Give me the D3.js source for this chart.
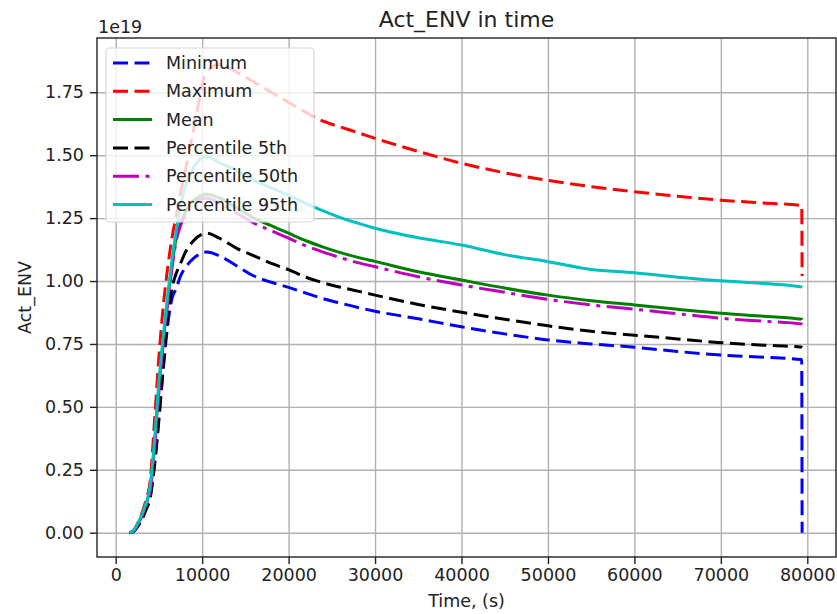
<!DOCTYPE html>
<html>
<head>
<meta charset="utf-8">
<title>Act_ENV in time</title>
<script src="https://d3js.org/d3.v7.min.js"></script>
<style>
  body { margin: 0; background: #fff; }
  svg text { font-family: "DejaVu Sans", sans-serif; fill: #222; }
</style>
</head>
<body>
<script>
// time (s) and series values, in units of 1e19
var time = [1600, 2000, 2500, 3000, 3500, 4000, 4500, 5000, 5500, 6000, 6500, 7000, 7500, 8000, 9000, 10500,
            12000, 14000, 16000, 18000, 20000, 22000, 24000, 26000, 28000, 30000, 35000, 40000, 45000, 50000,
            55000, 60000, 65000, 70000, 75000, 79350, 79400];

var minimum = [0, 0.004, 0.025, 0.055, 0.10, 0.15, 0.28, 0.46, 0.65, 0.82, 0.93, 0.97, 1.02, 1.05, 1.09, 1.115,
               1.10, 1.06, 1.02, 0.995, 0.975, 0.952, 0.93, 0.912, 0.895, 0.88, 0.85, 0.818, 0.79, 0.766,
               0.75, 0.737, 0.72, 0.706, 0.697, 0.688, 0.0];
var maximum = [0, 0.006, 0.035, 0.075, 0.13, 0.21, 0.45, 0.70, 0.90, 1.05, 1.17, 1.26, 1.35, 1.43, 1.60, 1.83,
               1.86, 1.83, 1.79, 1.75, 1.71, 1.67, 1.635, 1.612, 1.59, 1.567, 1.515, 1.468, 1.43, 1.40,
               1.375, 1.355, 1.337, 1.321, 1.31, 1.30, 1.02];
var mean = [0, 0.005, 0.03, 0.065, 0.11, 0.18, 0.35, 0.58, 0.76, 0.92, 1.06, 1.17, 1.23, 1.27, 1.32, 1.345,
            1.33, 1.29, 1.25, 1.22, 1.19, 1.16, 1.135, 1.113, 1.094, 1.078, 1.037, 1.004, 0.972, 0.944,
            0.922, 0.905, 0.888, 0.872, 0.86, 0.848, 0.846];
var p5 = [0, 0.003, 0.022, 0.05, 0.09, 0.14, 0.27, 0.45, 0.66, 0.85, 0.97, 1.03, 1.07, 1.11, 1.16, 1.19,
          1.17, 1.13, 1.10, 1.07, 1.045, 1.015, 0.993, 0.975, 0.96, 0.944, 0.907, 0.876, 0.848, 0.822,
          0.80, 0.785, 0.77, 0.755, 0.745, 0.737, 0.736];
var p50 = [0, 0.005, 0.03, 0.063, 0.105, 0.17, 0.33, 0.56, 0.75, 0.91, 1.05, 1.16, 1.22, 1.26, 1.31, 1.33,
           1.31, 1.27, 1.23, 1.20, 1.17, 1.14, 1.115, 1.093, 1.073, 1.057, 1.017, 0.984, 0.955, 0.927,
           0.905, 0.888, 0.87, 0.852, 0.84, 0.829, 0.828];
var p95 = [0, 0.006, 0.032, 0.07, 0.115, 0.19, 0.37, 0.60, 0.78, 0.94, 1.08, 1.20, 1.30, 1.37, 1.45, 1.495,
           1.47, 1.44, 1.40, 1.37, 1.34, 1.308, 1.279, 1.252, 1.23, 1.21, 1.172, 1.143, 1.105, 1.077,
           1.046, 1.033, 1.015, 1.001, 0.99, 0.976, 0.975];

var names = ["Minimum", "Maximum", "Mean", "Percentile 5th", "Percentile 50th", "Percentile 95th"];
var colors = ["#0000ff", "#ff0000", "#008000", "#000000", "#bf00bf", "#00bfbf"];
var dashes = ["15,6.5", "15,6.5", null, "15,6.5", "26,6.5,4,6.5", null];
var values = [minimum, maximum, mean, p5, p50, p95];

var xTicks = [0, 10000, 20000, 30000, 40000, 50000, 60000, 70000, 80000];
var yTicks = [0, 0.25, 0.5, 0.75, 1.0, 1.25, 1.5, 1.75];

var W = 837, H = 614;
var plotL = 97, plotR = 836, plotT = 38, plotB = 557;

var svg = d3.select("body").append("svg")
  .attr("width", W)
  .attr("height", H);

var x = d3.scaleLinear().domain([-2163, 83320]).range([plotL, plotR]);
var y = d3.scaleLinear().domain([-0.0966, 1.9657]).range([plotB, plotT]);

// grid
svg.append("g")
  .attr("transform", "translate(0," + plotB + ")")
  .call(d3.axisBottom(x).tickValues(xTicks).tickSize(-(plotB - plotT)).tickFormat(""))
  .call(function(g) {
    g.select(".domain").remove();
    g.selectAll("line").attr("stroke", "#b0b0b0").attr("stroke-width", 1.4);
  });
svg.append("g")
  .attr("transform", "translate(" + plotL + ",0)")
  .call(d3.axisLeft(y).tickValues(yTicks).tickSize(-(plotR - plotL)).tickFormat(""))
  .call(function(g) {
    g.select(".domain").remove();
    g.selectAll("line").attr("stroke", "#b0b0b0").attr("stroke-width", 1.4);
  });

// lines
var line = d3.line()
  .curve(d3.curveMonotoneX)
  .x(function(d, i) { return x(time[i]); })
  .y(function(d) { return y(d); });

svg.append("clipPath").attr("id", "plot")
  .append("rect").attr("x", plotL).attr("y", plotT).attr("width", plotR - plotL).attr("height", plotB - plotT);

svg.append("g").attr("clip-path", "url(#plot)")
  .selectAll("path")
  .data(values)
  .enter()
  .append("path")
  .attr("d", function(d) { return line(d); })
  .attr("fill", "none")
  .attr("stroke", function(d, i) { return colors[i]; })
  .attr("stroke-width", 3)
  .attr("stroke-dasharray", function(d, i) { return dashes[i]; })
  .attr("stroke-linejoin", "round");

// axes
var xAxis = svg.append("g")
  .attr("transform", "translate(0," + plotB + ")")
  .call(d3.axisBottom(x).tickValues(xTicks).tickSize(7).tickSizeOuter(0).tickPadding(5).tickFormat(d3.format("d")));
var yAxis = svg.append("g")
  .attr("transform", "translate(" + plotL + ",0)")
  .call(d3.axisLeft(y).tickValues(yTicks).tickSize(7).tickSizeOuter(0).tickPadding(6).tickFormat(d3.format(".2f")));

[xAxis, yAxis].forEach(function(g) {
  g.select(".domain").remove();
  g.selectAll("line").attr("stroke", "#222").attr("stroke-width", 1.4);
  g.selectAll("text").style("font-size", "17.5px").attr("fill", "#222");
});

svg.append("rect")
  .attr("x", plotL).attr("y", plotT)
  .attr("width", plotR - plotL).attr("height", plotB - plotT)
  .attr("fill", "none").attr("stroke", "#222").attr("stroke-width", 1.4);

// texts
svg.append("text").attr("x", (plotL + plotR) / 2).attr("y", 27)
  .attr("text-anchor", "middle").style("font-size", "22px").text("Act_ENV in time");
svg.append("text").attr("x", 98).attr("y", 33)
  .style("font-size", "17.5px").text("1e19");
svg.append("text").attr("x", (plotL + plotR) / 2).attr("y", 607)
  .attr("text-anchor", "middle").style("font-size", "17.5px").text("Time, (s)");
svg.append("text").attr("transform", "translate(31," + (plotT + plotB) / 2 + ") rotate(-90)")
  .attr("text-anchor", "middle").style("font-size", "17.5px").text("Act_ENV");

// legend
var legend = svg.append("g");
legend.append("rect")
  .attr("x", 106).attr("y", 48).attr("width", 208).attr("height", 174)
  .attr("rx", 4)
  .attr("fill", "#fff").attr("fill-opacity", 0.8)
  .attr("stroke", "#d6d6d6").attr("stroke-width", 1.2);

var item = legend.selectAll("g.item")
  .data(names)
  .enter()
  .append("g")
  .attr("class", "item")
  .attr("transform", function(d, i) { return "translate(0," + (63 + i * 28.3) + ")"; });

item.append("line")
  .attr("x1", 113).attr("x2", 152)
  .attr("stroke", function(d, i) { return colors[i]; })
  .attr("stroke-width", 3)
  .attr("stroke-dasharray", function(d, i) { return dashes[i]; });

item.append("text")
  .attr("x", 166).attr("dy", "0.35em")
  .style("font-size", "17.5px")
  .text(function(d) { return d; });
</script>
</body>
</html>
